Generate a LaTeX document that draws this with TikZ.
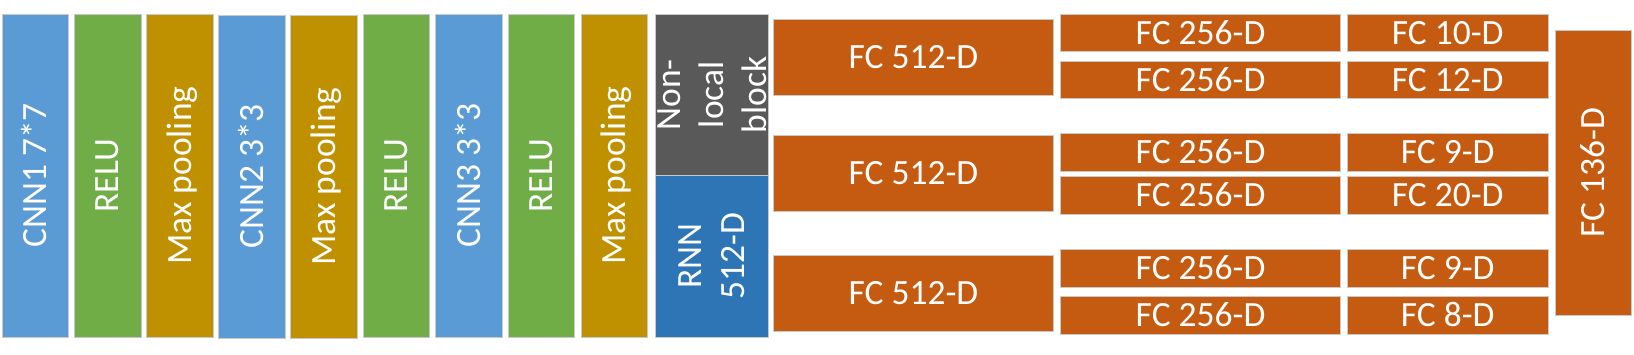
\documentclass[tikz,border=0pt]{standalone}
\usepackage{fontspec}
\setmainfont{Carlito}
\definecolor{cnnblue}{HTML}{5B9BD5}
\definecolor{relugreen}{HTML}{70AD47}
\definecolor{poolgold}{HTML}{BF9000}
\definecolor{nlgray}{HTML}{595959}
\definecolor{rnnblue}{HTML}{2E75B6}
\definecolor{fcorange}{HTML}{C55A11}
\definecolor{edgegray}{HTML}{C9C9C9}
\tikzset{
  blk/.style={draw=edgegray, line width=0.9pt, inner sep=0pt, outer sep=0pt,
    text=white, font=\fontsize{35.5}{43}\selectfont},
  capline/.style={text height=22.4pt, text depth=0pt},
  vblk/.style={blk, capline, rotate=90, minimum width=323pt, minimum height=66.5pt},
  fcbig/.style={blk, capline, fill=fcorange, minimum width=279.6pt, minimum height=76pt},
  fcmid/.style={blk, capline, fill=fcorange, minimum width=279.7pt, minimum height=37.7pt},
  fcsmall/.style={blk, capline, fill=fcorange, minimum width=200.5pt, minimum height=37.7pt},
}
\begin{document}
\begin{tikzpicture}[x=1pt,y=-1pt]
\useasboundingbox (0,0) rectangle (1634,354);
% convolutional column
\node[vblk, fill=cnnblue]   (cnn1)  at (35.3,175.5)  {CNN1 7*7};
\node[vblk, fill=relugreen] (relu1) at (107.75,175.5) {RELU};
\node[vblk, fill=poolgold]  (mp1)   at (180.15,175.5) {Max pooling};
\node[vblk, fill=cnnblue]   (cnn2)  at (252.15,176.5) {CNN2 3*3};
\node[vblk, fill=poolgold]  (mp2)   at (324.05,176.5) {Max pooling};
\node[vblk, fill=relugreen] (relu2) at (396.25,175.5) {RELU};
\node[vblk, fill=cnnblue]   (cnn3)  at (468.8,175.5)  {CNN3 3*3};
\node[vblk, fill=relugreen] (relu3) at (541.25,175.5) {RELU};
\node[vblk, fill=poolgold]  (mp3)   at (614.2,175.5)  {Max pooling};
% non-local and RNN
\node[blk, rotate=90, align=center, fill=nlgray, minimum width=161.5pt, minimum height=112.8pt]
  (nl) at (711.9,94.75) {Non-\\local\\block};
\node[blk, rotate=90, align=center, fill=rnnblue, minimum width=161.8pt, minimum height=112.8pt]
  (rnn) at (711.9,256.4) {RNN\\512-D};
% FC 512
\node[fcbig] (fa) at (913.5,57)    {FC 512-D};
\node[fcbig] (fb) at (913.5,173.5) {FC 512-D};
\node[fcbig] (fc) at (913.5,293.5) {FC 512-D};
% FC 256
\node[fcmid] (ga1) at (1200.55,32.85)  {FC 256-D};
\node[fcmid] (ga2) at (1200.55,79.85)  {FC 256-D};
\node[fcmid] (gb1) at (1200.55,152.5)  {FC 256-D};
\node[fcmid] (gb2) at (1200.55,195.65) {FC 256-D};
\node[fcmid] (gc1) at (1200.55,268.5)  {FC 256-D};
\node[fcmid] (gc2) at (1200.55,315.15) {FC 256-D};
% small FC
\node[fcsmall] (ha1) at (1447.75,32.85)  {FC 10-D};
\node[fcsmall] (ha2) at (1447.75,79.85)  {FC 12-D};
\node[fcsmall] (hb1) at (1447.75,152.5)  {FC 9-D};
\node[fcsmall] (hb2) at (1447.75,195.65) {FC 20-D};
\node[fcsmall] (hc1) at (1447.75,268.5)  {FC 9-D};
\node[fcsmall] (hc2) at (1447.75,315.15) {FC 8-D};
% output
\node[blk, capline, rotate=90, fill=fcorange, minimum width=285.3pt, minimum height=76.2pt]
  (out) at (1593.7,172.95) {FC 136-D};
\end{tikzpicture}
\end{document}
